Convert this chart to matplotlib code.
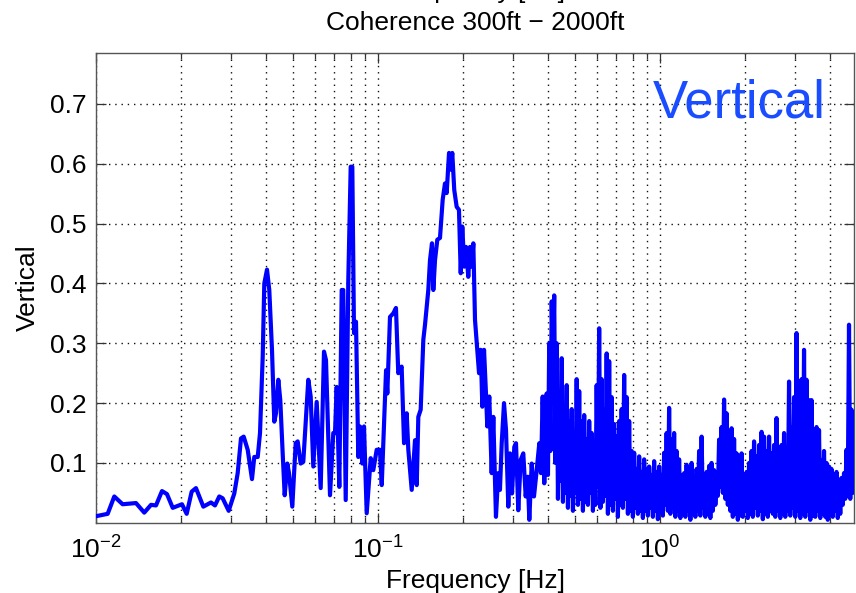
import numpy as np
import matplotlib
matplotlib.use("Agg")
import matplotlib.pyplot as plt
from matplotlib.ticker import FixedLocator, FixedFormatter, LogLocator, NullFormatter

plt.rcParams['font.family'] = ['Liberation Sans', 'DejaVu Sans']
plt.rcParams['mathtext.fontset'] = 'custom'
plt.rcParams['mathtext.rm'] = 'Liberation Sans'
plt.rcParams['mathtext.it'] = 'Liberation Sans:italic'
plt.rcParams['mathtext.bf'] = 'Liberation Sans:bold'

# Resolved part of the coherence spectrum (frequency in Hz, coherence)
freq_low = [
    0.01000, 0.01100, 0.01161, 0.01243, 0.01386, 0.01483, 0.01567, 0.01632, 0.01714, 0.01785,
    0.01871, 0.02018, 0.02097, 0.02184, 0.02262, 0.02402, 0.02557, 0.02642, 0.02736, 0.02813,
    0.02955, 0.03093, 0.03180, 0.03267, 0.03340, 0.03451, 0.03574, 0.03642, 0.03745, 0.03816,
    0.03901, 0.03952, 0.04040, 0.04116, 0.04208, 0.04288, 0.04348, 0.04431, 0.04503, 0.04592,
    0.04668, 0.04769, 0.04835, 0.04967, 0.05107, 0.05190, 0.05319, 0.05434, 0.05660, 0.05772,
    0.05896, 0.06062, 0.06263, 0.06434, 0.06540, 0.06758, 0.06942, 0.07039, 0.07137, 0.07291,
    0.07435, 0.07533, 0.07682, 0.07847, 0.08002, 0.08108, 0.08221, 0.08356, 0.08514, 0.08634,
    0.08797, 0.08921, 0.09119, 0.09421, 0.09623, 0.09894, 0.1016, 0.1031, 0.1068, 0.1079,
    0.1103, 0.1133, 0.1158, 0.1180, 0.1213, 0.1237, 0.1264, 0.1281, 0.1317, 0.1353,
    0.1372, 0.1390, 0.1417, 0.1448, 0.1468, 0.1508, 0.1529, 0.1554, 0.1571, 0.1593,
    0.1623, 0.1659, 0.1696, 0.1728, 0.1752, 0.1786, 0.1810, 0.1834, 0.1864, 0.1901,
    0.1937, 0.1965, 0.1990, 0.2023, 0.2052, 0.2090, 0.2120, 0.2150, 0.2178, 0.2208,
    0.2250, 0.2282, 0.2314, 0.2344, 0.2377, 0.2415, 0.2441, 0.2481, 0.2530, 0.2564,
    0.2620, 0.2670, 0.2707, 0.2746, 0.2798, 0.2844, 0.2898, 0.2939, 0.2987, 0.3044,
    0.3086, 0.3144, 0.3206, 0.3275, 0.3340, 0.3396, 0.3440, 0.3508, 0.3574, 0.3654,
    0.3733, 0.3784, 0.3837, 0.3887, 0.3964,
]
coh_low = [
    0.011, 0.015, 0.044, 0.031, 0.033, 0.017, 0.030, 0.029, 0.053, 0.048,
    0.025, 0.031, 0.015, 0.052, 0.058, 0.027, 0.034, 0.029, 0.044, 0.041,
    0.020, 0.049, 0.083, 0.141, 0.144, 0.122, 0.073, 0.110, 0.110, 0.150,
    0.278, 0.400, 0.423, 0.389, 0.289, 0.169, 0.183, 0.239, 0.205, 0.116,
    0.046, 0.099, 0.083, 0.027, 0.133, 0.136, 0.099, 0.102, 0.239, 0.211,
    0.094, 0.202, 0.058, 0.286, 0.272, 0.046, 0.150, 0.150, 0.227, 0.060,
    0.389, 0.389, 0.038, 0.406, 0.595, 0.595, 0.317, 0.336, 0.110, 0.161,
    0.099, 0.161, 0.016, 0.108, 0.088, 0.122, 0.122, 0.063, 0.255, 0.216,
    0.344, 0.350, 0.359, 0.250, 0.261, 0.133, 0.183, 0.122, 0.055, 0.138,
    0.063, 0.177, 0.189, 0.306, 0.331, 0.389, 0.439, 0.467, 0.389, 0.439,
    0.473, 0.476, 0.540, 0.567, 0.551, 0.618, 0.590, 0.618, 0.556, 0.528,
    0.523, 0.417, 0.495, 0.428, 0.461, 0.411, 0.461, 0.428, 0.467, 0.339,
    0.289, 0.250, 0.289, 0.194, 0.289, 0.216, 0.161, 0.211, 0.083, 0.177,
    0.010, 0.083, 0.055, 0.133, 0.200, 0.155, 0.027, 0.116, 0.049, 0.127,
    0.133, 0.021, 0.105, 0.116, 0.044, 0.077, 0.005, 0.099, 0.044, 0.088,
    0.133, 0.083, 0.211, 0.066, 0.216,
]

# Dense upper band (0.4 Hz to 4.9 Hz): alternating troughs and crests
band_start_hz = 0.4006
band_stop_hz = 4.875
band_crests = [
    0.30, 0.37, 0.38, 0.30, 0.22, 0.275, 0.18, 0.23, 0.17, 0.19,
    0.12, 0.24, 0.22, 0.17, 0.18, 0.14, 0.17, 0.15, 0.12, 0.23,
    0.325, 0.24, 0.19, 0.283, 0.27, 0.21, 0.165, 0.145, 0.17, 0.19,
    0.247, 0.21, 0.17, 0.12, 0.117, 0.09, 0.111, 0.085, 0.106, 0.09,
    0.094, 0.08, 0.103, 0.085, 0.094, 0.08, 0.117, 0.15, 0.192, 0.139,
    0.15, 0.12, 0.106, 0.08, 0.083, 0.097, 0.09, 0.10, 0.077, 0.09,
    0.12, 0.144, 0.077, 0.085, 0.095, 0.10, 0.088, 0.07, 0.139, 0.16,
    0.206, 0.183, 0.13, 0.158, 0.14, 0.116, 0.10, 0.116, 0.072, 0.085,
    0.10, 0.12, 0.136, 0.111, 0.13, 0.152, 0.144, 0.12, 0.144, 0.116,
    0.13, 0.175, 0.116, 0.13, 0.15, 0.116, 0.236, 0.16, 0.21, 0.317,
    0.205, 0.24, 0.289, 0.239, 0.205, 0.205, 0.139, 0.16, 0.155, 0.105,
    0.12, 0.10, 0.094, 0.09, 0.08, 0.085, 0.072, 0.075, 0.083, 0.122,
    0.331, 0.189, 0.177,
]
band_troughs = [
    0.08, 0.12, 0.26, 0.10, 0.04, 0.07, 0.035, 0.05, 0.025, 0.045,
    0.02, 0.05, 0.03, 0.04, 0.02, 0.035, 0.03, 0.05, 0.02, 0.03,
    0.06, 0.025, 0.035, 0.045, 0.015, 0.03, 0.02, 0.04, 0.01, 0.03,
    0.025, 0.04, 0.015, 0.02, 0.01, 0.025, 0.015, 0.02, 0.008, 0.02,
    0.012, 0.025, 0.01, 0.02, 0.006, 0.018, 0.012, 0.03, 0.02, 0.015,
    0.025, 0.01, 0.02, 0.008, 0.015, 0.01, 0.02, 0.005, 0.015, 0.01,
    0.02, 0.012, 0.025, 0.01, 0.015, 0.008, 0.02, 0.03, 0.045, 0.06,
    0.05, 0.04, 0.03, 0.02, 0.01, 0.015, 0.005, 0.012, 0.01, 0.02,
    0.008, 0.015, 0.01, 0.025, 0.012, 0.02, 0.006, 0.015, 0.01, 0.02,
    0.015, 0.01, 0.02, 0.008, 0.015, 0.01, 0.02, 0.012, 0.025, 0.01,
    0.02, 0.008, 0.015, 0.01, 0.02, 0.005, 0.012, 0.01, 0.02, 0.008,
    0.015, 0.01, 0.005, 0.012, 0.01, 0.02, 0.008, 0.015, 0.03, 0.04,
    0.045, 0.04, 0.05,
]

ytick_values = [0.1, 0.2, 0.3, 0.4, 0.5, 0.6, 0.7]
ytick_labels = ['0.1', '0.2', '0.3', '0.4', '0.5', '0.6', '0.7']
xtick_values = [0.01, 0.1, 1.0]
xtick_labels = [r'$\mathregular{10^{-2}}$', r'$\mathregular{10^{-1}}$', r'$\mathregular{10^{0}}$']

title_lines = ['Frequency [Hz]', 'Coherence 300ft \u2212 2000ft']
xlabel_text = 'Frequency [Hz]'
ylabel_text = 'Vertical'
panel_tag = 'Vertical'

band_freq = np.geomspace(band_start_hz, band_stop_hz, 2 * len(band_crests))
band_coh = np.column_stack([band_troughs, band_crests]).ravel()
freq = np.concatenate([freq_low, band_freq])
coh = np.concatenate([coh_low, band_coh])

W, H = 856, 593
fig = plt.figure(figsize=(W / 100, H / 100), dpi=100)
ax = fig.add_axes([96 / W, 1 - 522.8 / H, 758 / W, 469.8 / H])

ax.plot(freq, coh, color='#0000ff', lw=3.0, solid_joinstyle='round',
        solid_capstyle='round', zorder=3)

ax.set_xscale('log')
ax.set_xlim(0.01, 4.875)
ax.set_ylim(0, 0.785)

ax.xaxis.set_major_locator(FixedLocator(xtick_values))
ax.xaxis.set_major_formatter(FixedFormatter(xtick_labels))
ax.xaxis.set_minor_locator(LogLocator(base=10, subs=np.arange(2, 10)))
ax.xaxis.set_minor_formatter(NullFormatter())
ax.yaxis.set_major_locator(FixedLocator(ytick_values))
ax.yaxis.set_major_formatter(FixedFormatter(ytick_labels))

grid_style = dict(color='#111111', linestyle=(0, (1, 3.5)), linewidth=1.0)
ax.grid(which='major', axis='both', **grid_style)
ax.grid(which='minor', axis='x', **grid_style)
ax.set_axisbelow(True)

ax.tick_params(which='both', direction='in', top=True, right=True,
               color='#333333', labelsize=19)
ax.tick_params(axis='x', which='both', pad=10)
ax.tick_params(axis='y', which='both', pad=7)
ax.tick_params(which='major', length=7, width=0.9)
ax.tick_params(which='minor', length=4, width=0.9)
for s in ax.spines.values():
    s.set_color('#555555')
    s.set_linewidth(1.0)

ax.set_xlabel(xlabel_text, fontsize=19, labelpad=4)
ax.set_ylabel(ylabel_text, fontsize=19, labelpad=7)

cx = (96 + 854) / 2 / W
fig.text(cx, 1 + 2 / H, title_lines[0], ha='center', va='baseline', fontsize=19)
fig.text(cx, 1 - 30 / H, title_lines[1], ha='center', va='baseline', fontsize=19)

ax.text(0.963, 0.862, panel_tag, transform=ax.transAxes, ha='right', va='baseline',
        fontsize=38, color='#1a4dff', zorder=4)

fig.savefig('out.png', dpi=100)
